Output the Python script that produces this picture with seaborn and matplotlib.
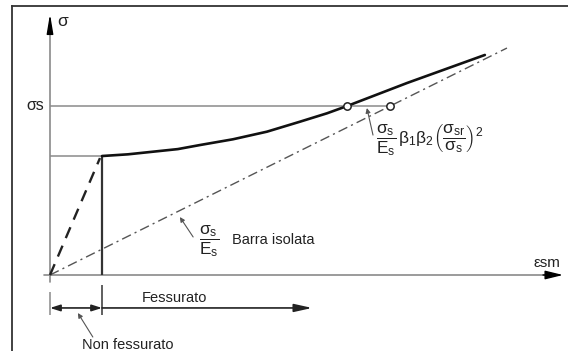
import matplotlib
matplotlib.use("Agg")
import matplotlib.pyplot as plt
import seaborn as sns
import pandas as pd

# ---- data (arbitrary units: sigma normalised to sigma_s, eps so that bare bar has slope 1/Es = 1)
sigma_s = 1.0
sigma_sr = 0.704
eps_cr = 0.153
eps_at_sigma_s_bare = 1.0          # sigma_s / Es

bare_eps = [0.0, 1.344]            # "Barra isolata"  sigma = eps * Es
bare_sig = [0.0, 1.343]

uncracked_eps = [0.0, 0.147]       # non fessurato (dashed)
uncracked_sig = [0.0, 0.692]

curve_eps = [0.153, 0.229, 0.376, 0.441, 0.538, 0.638, 0.735, 0.815, 0.874, 1.050, 1.279]
curve_sig = [0.704, 0.714, 0.745, 0.769, 0.803, 0.848, 0.907, 0.957, 1.000, 1.136, 1.302]

circle_eps = [0.874, 1.000]
circle_sig = [1.0, 1.0]

sns.set_style("white")
plt.rcParams["font.family"] = ["Liberation Sans", "DejaVu Sans"]
plt.rcParams["mathtext.fontset"] = "custom"
plt.rcParams["mathtext.rm"] = "Liberation Sans"
plt.rcParams["mathtext.it"] = "Liberation Sans"
plt.rcParams["mathtext.bf"] = "Liberation Sans:bold"

TXT = "#222222"
GRAY = "#8a8a8a"

fig = plt.figure(figsize=(5.68, 3.51), dpi=100)
ax = fig.add_axes([12 / 568, 0, 556 / 568, 345 / 351])
ax.set_xlim(-38 / 340, 518 / 340)
ax.set_ylim(-76 / 169, 269 / 169)
for s in ["right", "bottom"]:
    ax.spines[s].set_visible(False)
for s in ["top", "left"]:
    ax.spines[s].set_color("#333333")
    ax.spines[s].set_linewidth(1.3)
ax.set_xticks([])
ax.set_yticks([])

# ---- axes with arrows
ax.plot([-0.018, 1.47], [0, 0], color=GRAY, lw=1.2, zorder=1)
ax.annotate("", xy=(1.509, 0), xytext=(1.45, 0),
            arrowprops=dict(arrowstyle="-|>,head_length=0.9,head_width=0.22", color="black",
                            lw=1.0, mutation_scale=12, shrinkA=0, shrinkB=0))
ax.plot([0, 0], [-0.04, 1.45], color=GRAY, lw=1.2, zorder=1)
ax.annotate("", xy=(0, 1.545), xytext=(0, 1.44),
            arrowprops=dict(arrowstyle="-|>,head_length=0.9,head_width=0.15", color="black",
                            lw=1.0, mutation_scale=13, shrinkA=0, shrinkB=0))

# ---- reference lines
ax.hlines(sigma_s, 0, eps_at_sigma_s_bare, color=GRAY, lw=1.1, zorder=1)
ax.hlines(sigma_sr, 0, eps_cr, color=GRAY, lw=1.1, zorder=1)
ax.vlines(eps_cr, 0, sigma_sr, color="#333333", lw=1.6, zorder=2)

# ---- series
df_bare = pd.DataFrame({"eps": bare_eps, "sig": bare_sig})
sns.lineplot(data=df_bare, x="eps", y="sig", ax=ax, color="#555555", lw=1.0,
             estimator=None, sort=False, zorder=2)
ax.lines[-1].set_dashes([7, 3, 1.5, 3])

df_unc = pd.DataFrame({"eps": uncracked_eps, "sig": uncracked_sig})
sns.lineplot(data=df_unc, x="eps", y="sig", ax=ax, color="#222222", lw=1.7,
             estimator=None, sort=False, zorder=3)
ax.lines[-1].set_dashes([5, 3.5])

df_curve = pd.DataFrame({"eps": curve_eps, "sig": curve_sig})
sns.lineplot(data=df_curve, x="eps", y="sig", ax=ax, color="#111111", lw=1.9,
             estimator=None, sort=False, zorder=4)
ax.lines[-1].set_solid_joinstyle("round")

df_c = pd.DataFrame({"eps": circle_eps, "sig": circle_sig})
sns.scatterplot(data=df_c, x="eps", y="sig", ax=ax, s=28, facecolor="white",
                edgecolor="#222222", linewidth=1.1, zorder=5)
ax.set_xlabel("")
ax.set_ylabel("")

# ---- axis labels
ax.text(0.021, 1.50, "σ", fontsize=12.5, color=TXT, ha="left", va="center")
ax.text(-0.018, sigma_s, "σs", fontsize=11.5, color=TXT, ha="right", va="center")
ax.text(1.462, 0.072, "εsm", fontsize=11, color=TXT, ha="center", va="center")

# ---- dimension lines below the axis
ax.vlines(0, -0.237, -0.10, color=GRAY, lw=1.1)
ax.vlines(eps_cr, -0.237, -0.059, color="#444444", lw=1.2)
ax.annotate("", xy=(0, -0.195), xytext=(eps_cr, -0.195),
            arrowprops=dict(arrowstyle="<|-|>,head_length=0.5,head_width=0.16", color="#222222",
                            lw=1.2, mutation_scale=12, shrinkA=0, shrinkB=0))
ax.annotate("", xy=(0.771, -0.195), xytext=(eps_cr, -0.195),
            arrowprops=dict(arrowstyle="-|>,head_length=0.9,head_width=0.2", color="#222222",
                            lw=1.2, mutation_scale=12, shrinkA=0, shrinkB=0))
ax.text(0.271, -0.136, "Fessurato", fontsize=10.5, color=TXT, ha="left", va="center")
ax.text(0.094, -0.414, "Non fessurato", fontsize=10.5, color=TXT, ha="left", va="center")
ax.annotate("", xy=(0.082, -0.225), xytext=(0.126, -0.367),
            arrowprops=dict(arrowstyle="-|>", color="#555555", lw=0.8, mutation_scale=7,
                            shrinkA=0, shrinkB=0))

# ---- Barra isolata label
ax.annotate("", xy=(0.382, 0.343), xytext=(0.421, 0.225),
            arrowprops=dict(arrowstyle="-|>", color="#555555", lw=0.8, mutation_scale=7,
                            shrinkA=0, shrinkB=0))
ax.text(0.468, 0.201, r"$\dfrac{\sigma_s}{E_s}$", fontsize=12.5, color=TXT,
        ha="center", va="center")
ax.text(0.535, 0.207, "Barra isolata", fontsize=10.5, color=TXT, ha="left", va="center")

# ---- tension stiffening label
ax.annotate("", xy=(0.932, 0.988), xytext=(0.950, 0.828),
            arrowprops=dict(arrowstyle="-|>", color="#555555", lw=0.8, mutation_scale=7,
                            shrinkA=0, shrinkB=0))
ax.text(0.960, 0.799,
        r"$\dfrac{\sigma_s}{E_s}\,\beta_1\beta_2\left(\dfrac{\sigma_{sr}}{\sigma_s}\right)^2$",
        fontsize=12.5, color=TXT, ha="left", va="center")

fig.savefig("out.png", dpi=100)
